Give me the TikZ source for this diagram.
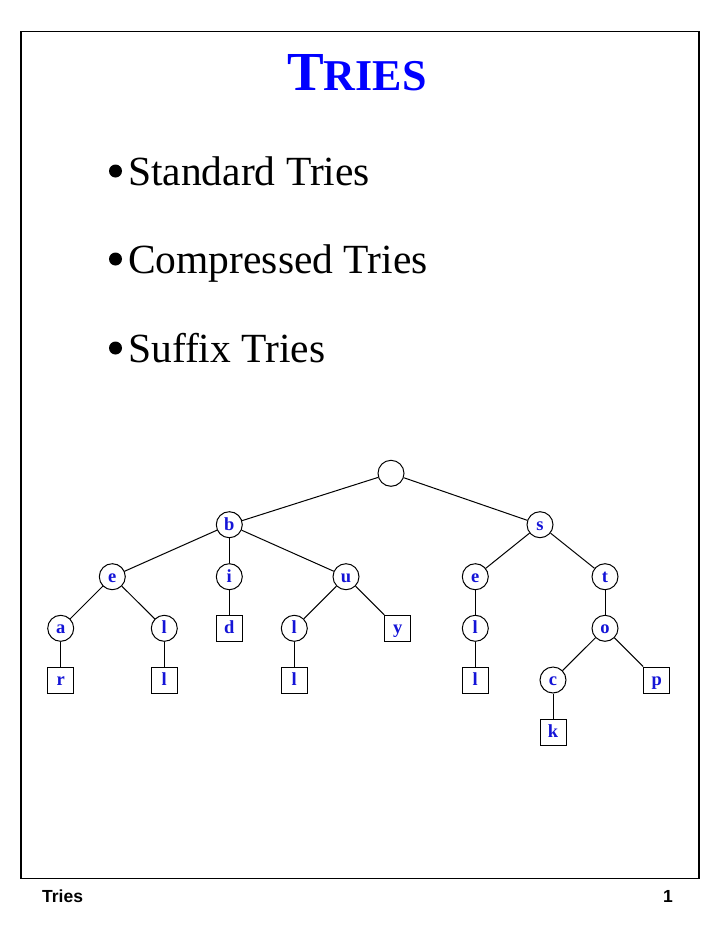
\documentclass[tikz,border=0pt]{standalone}
\usepackage{fontspec}
\setmainfont{Liberation Serif}
\newfontfamily\footfont{Liberation Sans}
\definecolor{nodeblue}{RGB}{20,20,215}
\definecolor{titleblue}{RGB}{0,0,255}
\begin{document}
\begin{tikzpicture}[x=1pt,y=-1pt,
  lettr/.style={font=\fontsize{18.5}{18.5}\selectfont\bfseries,text=nodeblue,text height=10.6pt,text depth=0pt,inner sep=0pt,line width=1pt,draw},
  inn/.style={lettr,circle,minimum size=26pt},
  leaf/.style={lettr,rectangle,minimum size=26pt},
  edge/.style={line width=1pt},
  bul/.style={anchor=base west,font=\fontsize{41.5}{41.5}\selectfont,inner sep=0pt},
  dot/.style={circle,fill=black,minimum size=13pt,inner sep=0pt},
  foot/.style={font=\footfont\bfseries\fontsize{17.5}{17.5}\selectfont,inner sep=0pt}]
\useasboundingbox (0,0) rectangle (720,932);
\fill[white] (0,0) rectangle (720,932);
\draw[line width=1.3pt] (21,31.5) rectangle (699,878.5);
% title
\node[anchor=base west,inner sep=0pt,text=titleblue,font=\bfseries] (title) at (287,90.7)
  {\fontsize{55}{55}\selectfont T\fontsize{44}{44}\selectfont RIES};
% bullets
\node[dot] (d1) at (115.5,171) {};
\node[bul] (b1) at (128,185) {Standard Tries};
\node[dot] (d2) at (115.5,259) {};
\node[bul] (b2) at (128,273) {Compressed Tries};
\node[dot] (d3) at (115.5,348) {};
\node[bul] (b3) at (128,362) {Suffix Tries};
% tree
\node[inn] (root) at (391,473.3) {};
\node[inn] (b) at (229.3,524.7) {b};
\node[inn] (s) at (540,524.7) {s};
\node[inn] (e1) at (112.3,576.7) {e};
\node[inn] (i) at (229.3,576.7) {i};
\node[inn] (u) at (346,576.7) {u};
\node[inn] (e2) at (475.3,576.7) {e};
\node[inn] (t) at (605,576.7) {t};
\node[inn] (a) at (60.7,628.3) {a};
\node[inn] (l1) at (164.3,628.3) {l};
\node[leaf] (d) at (229.3,628.3) {d};
\node[inn] (l2) at (294.3,628.3) {l};
\node[leaf] (y) at (397.7,628.3) {y};
\node[inn] (l3) at (475.3,628.3) {l};
\node[inn] (o) at (605,628.3) {o};
\node[leaf] (r) at (60.7,680) {r};
\node[leaf] (l4) at (164.3,680) {l};
\node[leaf] (l5) at (294.3,680) {l};
\node[leaf] (l6) at (475.3,680) {l};
\node[inn] (c) at (553,680) {c};
\node[leaf] (p) at (656.7,680) {p};
\node[leaf] (k) at (553,732.3) {k};
\draw[edge] (root) -- (b);
\draw[edge] (root) -- (s);
\draw[edge] (b) -- (e1);
\draw[edge] (b) -- (i);
\draw[edge] (b) -- (u);
\draw[edge] (e1) -- (a);
\draw[edge] (e1) -- (l1);
\draw[edge] (i) -- (d);
\draw[edge] (u) -- (l2);
\draw[edge] (u) -- (y);
\draw[edge] (a) -- (r);
\draw[edge] (l1) -- (l4);
\draw[edge] (l2) -- (l5);
\draw[edge] (s) -- (e2);
\draw[edge] (s) -- (t);
\draw[edge] (e2) -- (l3);
\draw[edge] (l3) -- (l6);
\draw[edge] (t) -- (o);
\draw[edge] (o) -- (c);
\draw[edge] (o) -- (p);
\draw[edge] (c) -- (k);
% footer
\node[foot,anchor=base west] (fl) at (42,902) {Tries};
\node[foot,anchor=base east] (fr) at (673,902) {1};
\end{tikzpicture}
\end{document}
